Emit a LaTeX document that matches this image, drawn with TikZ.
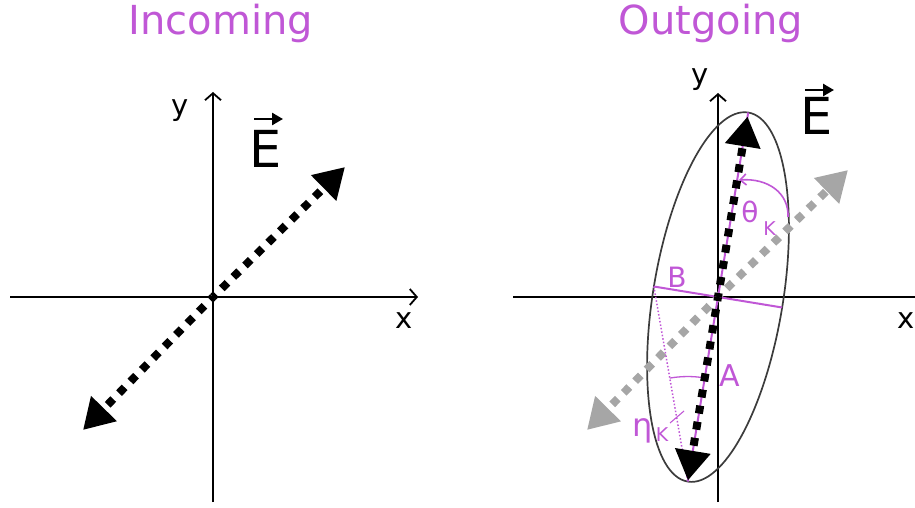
\documentclass[tikz,border=0pt]{standalone}
\usepackage{fontspec}
\setmainfont{DejaVu Sans}
\usetikzlibrary{arrows.meta,calc}
\definecolor{pur}{RGB}{192,87,214}
\definecolor{garrow}{RGB}{166,166,166}
\definecolor{ellgray}{RGB}{60,60,60}
\newcommand{\fs}[1]{\fontsize{#1}{#1}\selectfont}
\begin{document}
\begin{tikzpicture}[x=1pt,y=1pt,
  axisline/.style={line width=1.8pt,-{Straight Barb[length=7pt,width=16pt]}},
  plainline/.style={line width=1.8pt},
  efield/.style={line width=8pt,dash pattern=on 8pt off 8.3pt,dash phase=4pt,
     -{Triangle[length=30pt,width=34pt]}},
  gfield/.style={efield,draw=garrow},
  lbl/.style={inner sep=0pt,font=\fs{29}},
  title/.style={inner sep=0pt,font=\fs{40},text=pur},
  vecarrow/.style={line width=2.6pt,-{Triangle[length=11pt,width=12pt]}},
  purline/.style={draw=pur,line width=2pt},
  purlbl/.style={inner sep=0pt,text=pur},
]
\useasboundingbox (0,0) rectangle (915,507);

% ---------- titles
\node[title] (t1) at (221,484) {Incoming};
\node[title] (t2) at (711,484) {Outgoing};

% ---------- left panel
\coordinate (O1) at (213,210);
\coordinate (L1w) at (10,210);
\coordinate (L1e) at (418,210);
\coordinate (L1s) at (213,5);
\coordinate (L1n) at (213,415);
\draw[plainline] (L1w) -- (O1);
\draw[axisline] (O1) -- (L1e);
\draw[plainline] (L1s) -- (O1);
\draw[axisline] (O1) -- (L1n);
\node[lbl] (y1) at (180,396) {y};
\node[lbl] (x1) at (404,186) {x};
\node[inner sep=0pt,font=\fs{51}] (E1) at (266,358) {E};
\coordinate (E1a) at (254,388);
\coordinate (E1b) at (283,388);
\draw[vecarrow] (E1a) -- (E1b);
\coordinate (T1a) at (345,340);
\coordinate (T1b) at (83,77);
\draw[efield] (O1) -- (T1a);
\draw[efield] (O1) -- (T1b);

% ---------- right panel
\coordinate (O2) at (718,210);
\coordinate (R2w) at (513,210);
\coordinate (R2e) at (925,210);
\coordinate (R2s) at (718,5);
\coordinate (R2n) at (718,414);
\draw[plainline] (R2w) -- (O2);
\draw[axisline] (O2) -- (R2e);
\draw[plainline] (R2s) -- (O2);
\draw[axisline] (O2) -- (R2n);
\node[lbl] (y2) at (700,427) {y};
\node[lbl] (x2) at (906,186) {x};
\node[inner sep=0pt,font=\fs{51}] (E2) at (817,391) {E};
\coordinate (E2a) at (805,417);
\coordinate (E2b) at (834,417);
\draw[vecarrow] (E2a) -- (E2b);

% ellipse
\draw[ellgray,line width=1.7pt,rotate around={80.7:(O2)}] (O2) ellipse [x radius=187, y radius=65];

% gray incoming field
\coordinate (Ga) at (848,337);
\coordinate (Gb) at (587,77);
\draw[gfield] (O2) -- (Ga);
\draw[gfield] (O2) -- (Gb);

% axes of ellipse
\coordinate (Atop) at ($(O2)+(80.7:187)$);
\coordinate (Abot) at ($(O2)+(260.7:187)$);
\coordinate (Bl) at ($(O2)+(170.7:65)$);
\coordinate (Br) at ($(O2)+(-9.3:65)$);
\draw[purline] (Abot) -- (Atop);
\draw[purline] (Bl) -- (Br);
\draw[draw=pur,line width=1.5pt,dotted] (Bl) -- (Abot);

% eta arc and tick
\draw[draw=pur,line width=1.3pt] ($(Abot)+(99.9:105)$) arc[start angle=99.9,end angle=80.7,radius=105];
\coordinate (Ha) at (670,84);
\coordinate (Hb) at (684,96);
\draw[draw=pur,line width=1.1pt] (Ha) -- (Hb);

% theta arc
\coordinate (Th1) at (788,290);
\coordinate (Th2) at (739,327);
\draw[draw=pur,line width=1.6pt,-{Straight Barb[length=6pt,width=11pt]}] (Th1) .. controls (789,314) and (768,329) .. (Th2);

% black outgoing field
\coordinate (Ka) at ($(O2)+(80.7:183)$);
\coordinate (Kb) at ($(O2)+(260.7:186)$);
\draw[efield] (O2) -- (Ka);
\draw[efield] (O2) -- (Kb);

% labels
\node[purlbl,font=\fs{28}] (Blbl) at (677,230) {B};
\node[purlbl,font=\fs{30}] (Albl) at (730,131) {A};
\node[purlbl,font=\fs{28}] (th) at (750,295) {θ};
\node[purlbl,font=\fs{19}] (thK) at (769.5,278.5) {K};
\node[purlbl,font=\fs{32}] (eta) at (643,76) {η};
\node[purlbl,font=\fs{19}] (etaK) at (662,72) {K};
\end{tikzpicture}
\end{document}
